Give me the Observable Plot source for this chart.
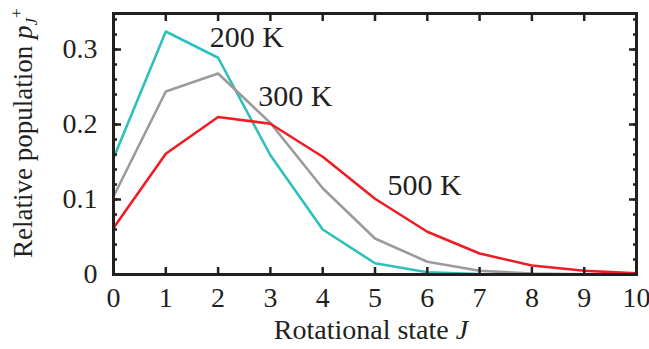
<!DOCTYPE html>
<html>
<head>
<meta charset="utf-8">
<script src="https://cdn.jsdelivr.net/npm/d3@7"></script>
<script src="https://cdn.jsdelivr.net/npm/@observablehq/plot@0.6"></script>
<style>
  html, body { margin: 0; padding: 0; background: #fff; }
  #chart svg { display: block; }
</style>
</head>
<body>
<div id="chart"></div>
<script>
// Rotational state J
const states = [0, 1, 2, 3, 4, 5, 6, 7, 8, 9, 10];

// Relative population of each rotational state at three temperatures
const pop200 = [0.155, 0.324, 0.289, 0.159, 0.060, 0.015, 0.003, 0.0005, 0, 0, 0];
const pop300 = [0.104, 0.244, 0.268, 0.202, 0.115, 0.048, 0.017, 0.005, 0.0013, 0.0003, 0];
const pop500 = [0.062, 0.161, 0.210, 0.201, 0.157, 0.101, 0.057, 0.028, 0.012, 0.005, 0.0015];

const temps = ["200 K", "300 K", "500 K"];
const colors = ["#2ec0b9", "#9b9b9b", "#ee1d24"];

// Where each temperature label sits (state, population)
const labelJ = [1.84, 2.77, 5.24];
const labelP = [0.316, 0.238, 0.119];

const xTicks = [0, 1, 2, 3, 4, 5, 6, 7, 8, 9, 10];
const yTicks = [0, 0.1, 0.2, 0.3];
const yMinor = d3.range(0, 0.35, 0.02).map(v => +v.toFixed(2));

const series = [pop200, pop300, pop500];
const rows = series.flatMap((vals, i) =>
  vals.map((p, k) => ({J: states[k], p, T: temps[i]})));
const labels = temps.map((t, i) => ({T: t, J: labelJ[i], p: labelP[i]}));

const ink = "#231f20";
const serif = "'Liberation Serif', 'Times New Roman', serif";
const plot = Plot.plot({
  width: 649,
  height: 349,
  marginLeft: 113,
  marginRight: 13,
  marginTop: 13,
  marginBottom: 75,
  style: {fontFamily: serif, fontSize: "28px", color: ink, background: "#fff"},
  x: {domain: [0, 10]},
  y: {domain: [0, 0.348]},
  color: {domain: temps, range: colors},
  marks: [
    Plot.line(rows, {x: "J", y: "p", z: "T", stroke: "T", strokeWidth: 2.6, strokeLinejoin: "round"}),
    Plot.text(labels, {x: "J", y: "p", text: "T", textAnchor: "start", fill: ink, fontSize: 30}),
    // inward ticks on all four sides
    Plot.axisX(xTicks, {anchor: "bottom", tickSize: -7, strokeWidth: 2.5, text: null, label: null}),
    Plot.axisX(xTicks, {anchor: "top", tickSize: -7, strokeWidth: 2.5, text: null, label: null}),
    Plot.axisY(yMinor, {anchor: "left", tickSize: -4, strokeWidth: 2.5, text: null, label: null}),
    Plot.axisY(yMinor, {anchor: "right", tickSize: -4, strokeWidth: 2.5, text: null, label: null}),
    Plot.axisY(yTicks, {anchor: "left", tickSize: -8, strokeWidth: 2.5, text: null, label: null}),
    Plot.axisY(yTicks, {anchor: "right", tickSize: -8, strokeWidth: 2.5, text: null, label: null}),
    // tick labels
    Plot.axisX(xTicks, {anchor: "bottom", tickSize: 0, tickPadding: 13, label: null, fontSize: 28, tickFormat: d => String(d)}),
    Plot.axisY(yTicks, {anchor: "left", tickSize: 0, tickPadding: 16, label: null, fontSize: 28, tickFormat: d => String(d)}),
    Plot.frame({stroke: ink, strokeWidth: 3})
  ]
});

const svg = d3.select(plot);

// x-axis title with italic J
const xt = svg.append("text")
  .attr("x", 371).attr("y", 339)
  .attr("text-anchor", "middle")
  .attr("font-family", serif)
  .attr("font-size", 28)
  .attr("fill", ink);
xt.append("tspan").text("Rotational state ");
xt.append("tspan").attr("font-style", "italic").text("J");

// y-axis title: Relative population p_J^+
const yt = svg.append("text")
  .attr("transform", "translate(32,258) rotate(-90)")
  .attr("text-anchor", "start")
  .attr("font-family", serif)
  .attr("font-size", 27)
  .attr("fill", ink);
yt.append("tspan").text("Relative population ");
yt.append("tspan").attr("font-style", "italic").text("p");
yt.append("tspan").attr("font-style", "italic").attr("font-size", 17).attr("dy", 5).text("J");
yt.append("tspan").attr("font-size", 17).attr("dy", -15).text("+");

document.getElementById("chart").appendChild(plot);
</script>
</body>
</html>
